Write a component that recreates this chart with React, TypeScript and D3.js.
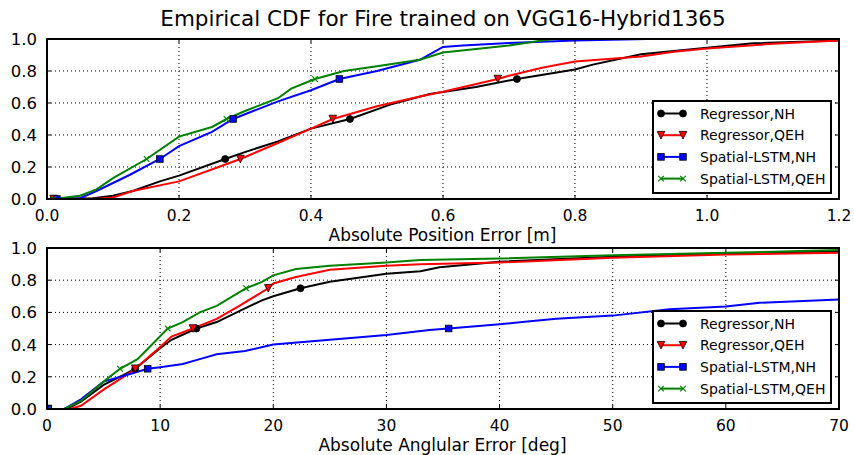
import React from 'react';
import * as d3 from 'd3';

type Pt = [number, number];

const seriesNames = ['Regressor,NH', 'Regressor,QEH', 'Spatial-LSTM,NH', 'Spatial-LSTM,QEH'];
const seriesColors = ['#000000', '#ff0000', '#0000ff', '#008000'];
const seriesMarkers = ['circle', 'triangle', 'square', 'x'];

// Top panel: absolute position error [m]
const posRegNH: Pt[] = [[0.01, 0], [0.07, 0.005], [0.1, 0.02], [0.13, 0.05], [0.171, 0.11], [0.2, 0.146], [0.27, 0.25], [0.302, 0.296], [0.35, 0.36], [0.4, 0.44], [0.459, 0.5], [0.52, 0.59], [0.58, 0.656], [0.65, 0.7], [0.712, 0.75], [0.8, 0.81], [0.827, 0.84], [0.9, 0.905], [1.0, 0.946], [1.07, 0.973], [1.2, 0.99]];
const posRegQEH: Pt[] = [[0.01, 0], [0.08, 0.003], [0.1, 0.01], [0.13, 0.05], [0.2, 0.11], [0.26, 0.2], [0.293, 0.25], [0.35, 0.35], [0.4, 0.44], [0.433, 0.5], [0.5, 0.58], [0.565, 0.64], [0.6, 0.67], [0.683, 0.75], [0.7, 0.77], [0.75, 0.82], [0.8, 0.86], [0.9, 0.89], [0.95, 0.92], [1.0, 0.94], [1.1, 0.97], [1.2, 0.99]];
const posLstmNH: Pt[] = [[0.015, 0], [0.05, 0.005], [0.075, 0.05], [0.1, 0.1], [0.125, 0.15], [0.171, 0.25], [0.2, 0.33], [0.25, 0.42], [0.282, 0.5], [0.3, 0.53], [0.35, 0.61], [0.4, 0.68], [0.443, 0.75], [0.5, 0.8], [0.565, 0.87], [0.6, 0.95], [0.63, 0.96], [0.7, 0.975], [0.8, 0.99], [0.91, 1.0]];
const posLstmQEH: Pt[] = [[0.01, 0], [0.05, 0.02], [0.075, 0.06], [0.1, 0.13], [0.151, 0.25], [0.2, 0.39], [0.25, 0.45], [0.272, 0.5], [0.3, 0.55], [0.35, 0.63], [0.37, 0.69], [0.406, 0.75], [0.45, 0.8], [0.5, 0.83], [0.565, 0.87], [0.6, 0.915], [0.7, 0.96], [0.75, 0.99], [0.77, 1.0]];

const posMarksRegNH: Pt[] = [[0.01, 0], [0.27, 0.25], [0.459, 0.5], [0.712, 0.75]];
const posMarksRegQEH: Pt[] = [[0.01, 0], [0.293, 0.25], [0.433, 0.5], [0.683, 0.75]];
const posMarksLstmNH: Pt[] = [[0.015, 0], [0.171, 0.25], [0.282, 0.5], [0.443, 0.75]];
const posMarksLstmQEH: Pt[] = [[0.01, 0], [0.151, 0.25], [0.272, 0.5], [0.406, 0.75]];

// Bottom panel: absolute angular error [deg]
const angRegNH: Pt[] = [[0.1, 0], [1.74, 0], [3, 0.045], [5, 0.15], [7, 0.22], [7.8, 0.25], [10, 0.377], [11, 0.43], [13.2, 0.5], [15, 0.54], [17.5, 0.625], [19, 0.675], [20, 0.7], [22.4, 0.75], [25, 0.79], [30, 0.84], [33, 0.855], [34.7, 0.88], [40, 0.915], [50, 0.946], [60, 0.966], [70, 0.98]];
const angRegQEH: Pt[] = [[0.1, 0], [2, 0], [3, 0.02], [5, 0.12], [7, 0.21], [7.8, 0.25], [10, 0.385], [11, 0.45], [12.9, 0.5], [15, 0.56], [17, 0.64], [19.56, 0.75], [20, 0.78], [22, 0.82], [25, 0.865], [30, 0.89], [33, 0.899], [40, 0.91], [50, 0.94], [60, 0.96], [70, 0.97]];
const angLstmNH: Pt[] = [[0.1, 0], [1.5, 0], [3, 0.06], [5, 0.17], [6.5, 0.2], [8.9, 0.25], [10, 0.26], [12, 0.28], [13.5, 0.31], [15, 0.34], [17.5, 0.36], [20, 0.4], [25, 0.43], [30, 0.46], [33.8, 0.49], [35.5, 0.5], [40, 0.526], [42, 0.54], [45, 0.56], [50, 0.58], [55, 0.62], [60, 0.637], [63, 0.66], [70, 0.68]];
const angLstmQEH: Pt[] = [[0.1, 0], [1.5, 0], [3, 0.05], [5, 0.17], [6.45, 0.25], [8, 0.31], [9, 0.38], [10.67, 0.5], [12, 0.54], [13.5, 0.6], [15, 0.64], [17.6, 0.75], [19, 0.79], [20, 0.83], [22, 0.87], [25, 0.89], [30, 0.91], [33, 0.925], [40, 0.935], [50, 0.955], [60, 0.97], [70, 0.987]];

const angMarksRegNH: Pt[] = [[0.1, 0], [7.8, 0.25], [13.2, 0.5], [22.4, 0.75]];
const angMarksRegQEH: Pt[] = [[0.1, 0], [7.8, 0.25], [12.9, 0.5], [19.56, 0.75]];
const angMarksLstmNH: Pt[] = [[0.1, 0], [8.9, 0.25], [35.5, 0.5]];
const angMarksLstmQEH: Pt[] = [[0.1, 0], [6.45, 0.25], [10.67, 0.5], [17.6, 0.75]];

const posXTicks = [0, 0.2, 0.4, 0.6, 0.8, 1.0, 1.2];
const angXTicks = [0, 10, 20, 30, 40, 50, 60, 70];
const yTicks = [0, 0.2, 0.4, 0.6, 0.8, 1.0];

const FONT = 'DejaVu Sans';

function Marker({ kind, x, y, color }: { kind: string; x: number; y: number; color: string }) {
  if (kind === 'circle') return <circle cx={x} cy={y} r={3.5} fill={color} stroke="#000" strokeWidth={0.8} />;
  if (kind === 'triangle') {
    const s = 3.8;
    return <path d={`M${x - s},${y - s}L${x + s},${y - s}L${x},${y + s}Z`} fill={color} stroke="#000" strokeWidth={0.8} />;
  }
  if (kind === 'square') return <rect x={x - 3.3} y={y - 3.3} width={6.6} height={6.6} fill={color} stroke="#000" strokeWidth={0.8} />;
  const s = 2.8;
  return <path d={`M${x - s},${y - s}L${x + s},${y + s}M${x - s},${y + s}L${x + s},${y - s}`} stroke={color} strokeWidth={1.2} fill="none" />;
}

function Panel(props: {
  id: string; top: number; bottom: number; left: number; right: number;
  xMax: number; xTicks: number[]; xFmt: (v: number) => string; xLabel: string;
  series: Pt[][]; marks: Pt[][]; legendTop: number;
}) {
  const { id, top, bottom, left, right, xMax, xTicks, xFmt, xLabel, series, marks, legendTop } = props;
  const x = d3.scaleLinear().domain([0, xMax]).range([left, right]);
  const y = d3.scaleLinear().domain([0, 1]).range([bottom, top]);
  const line = d3.line<Pt>().x(d => x(d[0])).y(d => y(d[1]));
  const tl = 4;
  const lgX = 653, lgW = 178, lgH = 92;
  return (
    <g>
      <defs>
        <clipPath id={id}><rect x={left} y={top} width={right - left} height={bottom - top} /></clipPath>
      </defs>
      {xTicks.map((t, i) => (i > 0 && i < xTicks.length - 1) ? (
        <line key={'gx' + i} x1={x(t)} x2={x(t)} y1={top} y2={bottom} stroke="#000" strokeWidth={1} strokeDasharray="1,3" />
      ) : null)}
      {yTicks.map((t, i) => (i > 0 && i < yTicks.length - 1) ? (
        <line key={'gy' + i} x1={left} x2={right} y1={y(t)} y2={y(t)} stroke="#000" strokeWidth={1} strokeDasharray="1,3" />
      ) : null)}
      <g clipPath={`url(#${id})`}>
        {series.map((s, i) => (
          <path key={'s' + i} d={line(s) || ''} fill="none" stroke={seriesColors[i]} strokeWidth={2} />
        ))}
        {marks.map((m, i) => m.map((p, j) => (
          <Marker key={'m' + i + '-' + j} kind={seriesMarkers[i]} x={x(p[0])} y={y(p[1])} color={seriesColors[i]} />
        )))}
      </g>
      {xTicks.map((t, i) => (
        <g key={'xt' + i}>
          <line x1={x(t)} x2={x(t)} y1={bottom} y2={bottom - tl} stroke="#000" strokeWidth={1} />
          <line x1={x(t)} x2={x(t)} y1={top} y2={top + tl} stroke="#000" strokeWidth={1} />
          <text x={x(t)} y={bottom + 21.5} textAnchor="middle" fontSize={15.5} fontFamily={FONT}>{xFmt(t)}</text>
        </g>
      ))}
      {yTicks.map((t, i) => (
        <g key={'yt' + i}>
          <line x1={left} x2={left + tl} y1={y(t)} y2={y(t)} stroke="#000" strokeWidth={1} />
          <line x1={right} x2={right - tl} y1={y(t)} y2={y(t)} stroke="#000" strokeWidth={1} />
          <text x={37} y={y(t) + 6} textAnchor="end" fontSize={16.5} fontFamily={FONT}>{t.toFixed(1)}</text>
        </g>
      ))}
      <rect x={left} y={top} width={right - left} height={bottom - top} fill="none" stroke="#000" strokeWidth={2} />
      <text x={(left + right) / 2 - 0.5} y={bottom + 41.5} textAnchor="middle" fontSize={17} fontFamily={FONT}>{xLabel}</text>
      <g>
        <rect x={lgX} y={legendTop} width={lgW} height={lgH} fill="#fff" stroke="#000" strokeWidth={2} />
        {seriesNames.map((n, i) => {
          const ly = legendTop + 12.5 + i * 21.7;
          return (
            <g key={'lg' + i}>
              <line x1={661} x2={683} y1={ly} y2={ly} stroke={seriesColors[i]} strokeWidth={2} />
              <Marker kind={seriesMarkers[i]} x={661} y={ly} color={seriesColors[i]} />
              <Marker kind={seriesMarkers[i]} x={683} y={ly} color={seriesColors[i]} />
              <text x={700} y={ly + 5} fontSize={14} fontFamily={FONT}>{n}</text>
            </g>
          );
        })}
      </g>
    </g>
  );
}

export default function App() {
  return (
    <svg width={854} height={455} style={{ position: 'absolute', left: 0, top: 0, background: '#fff' }}>
      <rect x={0} y={0} width={854} height={455} fill="#fff" />
      <text x={443} y={26} textAnchor="middle" fontSize={21.5} fontFamily={FONT}>Empirical CDF for Fire trained on VGG16-Hybrid1365</text>
      <Panel id="clipTop" top={39} bottom={199} left={47} right={839} xMax={1.2} xTicks={posXTicks}
        xFmt={v => v.toFixed(1)} xLabel="Absolute Position Error [m]"
        series={[posRegNH, posRegQEH, posLstmNH, posLstmQEH]}
        marks={[posMarksRegNH, posMarksRegQEH, posMarksLstmNH, posMarksLstmQEH]} legendTop={101} />
      <Panel id="clipBot" top={248} bottom={409} left={47} right={839} xMax={70} xTicks={angXTicks}
        xFmt={v => String(v)} xLabel="Absolute Anglular Error [deg]"
        series={[angRegNH, angRegQEH, angLstmNH, angLstmQEH]}
        marks={[angMarksRegNH, angMarksRegQEH, angMarksLstmNH, angMarksLstmQEH]} legendTop={311} />
    </svg>
  );
}
